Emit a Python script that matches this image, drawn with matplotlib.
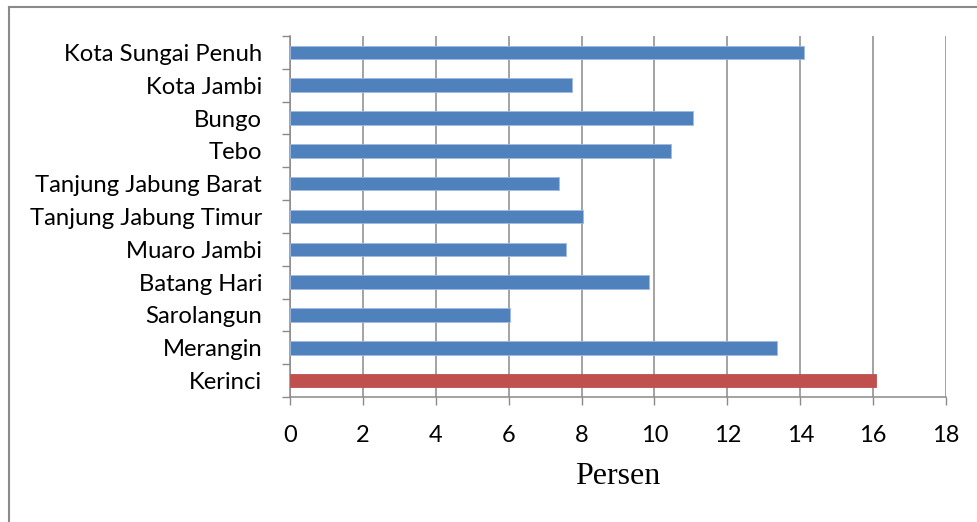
import matplotlib
matplotlib.use("Agg")
import matplotlib.pyplot as plt
from matplotlib.lines import Line2D
import numpy as np

categories = ["Kerinci", "Merangin", "Sarolangun", "Batang Hari", "Muaro Jambi",
              "Tanjung Jabung Timur", "Tanjung Jabung Barat", "Tebo", "Bungo",
              "Kota Jambi", "Kota Sungai Penuh"]
values = [16.07, 13.36, 6.04, 9.86, 7.57, 8.03, 7.38, 10.45, 11.07, 7.74, 14.10]
highlight = "Kerinci"
xticks = [0, 2, 4, 6, 8, 10, 12, 14, 16, 18]
xlabel = "Persen"

BLUE = "#4F81BD"
RED = "#C0504D"
GRID = "#8A8A8A"

fig = plt.figure(figsize=(9.77, 5.22), dpi=100)
W, H = 977, 522
ax = fig.add_axes([290 / W, 1 - 397 / H, (946 - 290) / W, (397 - 36) / H])

y = np.arange(len(categories))
colors = [RED if c == highlight else BLUE for c in categories]
edges = ["#C0504D" if c == highlight else "#9FBBE0" for c in categories]
ax.barh(y, values, height=0.41, color=colors, edgecolor=edges, linewidth=0.6, zorder=3)

ax.set_xlim(0, 18)
ax.set_ylim(-0.5, len(categories) - 0.5)
ax.set_xticks(xticks)
ax.set_xticklabels([str(t) for t in xticks], fontsize=17, fontfamily="Lato")
ax.set_yticks(y)
ax.set_yticklabels(categories, fontsize=17.2, fontfamily="Lato")
ax.set_yticks(np.arange(-0.5, len(categories), 1.0), minor=True)

ax.tick_params(axis="y", which="major", length=0, pad=20)
ax.tick_params(axis="y", which="minor", length=6, width=1.0, color=GRID, direction="out")
ax.tick_params(axis="x", which="major", length=6, width=1.0, color=GRID, direction="out", pad=14)

ax.grid(axis="x", color=GRID, linewidth=1.1, zorder=0)
ax.set_axisbelow(True)
for s in ["top", "right"]:
    ax.spines[s].set_visible(False)
for s in ["left", "bottom"]:
    ax.spines[s].set_color(GRID)
    ax.spines[s].set_linewidth(1.1)

ax.set_xlabel(xlabel, fontsize=23, fontfamily="Liberation Serif", labelpad=12)

# outer frame (left and top edges visible)
fig.add_artist(Line2D([9 / W, 9 / W], [0, 1 - 7 / H], transform=fig.transFigure, color="#8A8A8A", linewidth=1.5))
fig.add_artist(Line2D([9 / W, 1], [1 - 7 / H, 1 - 7 / H], transform=fig.transFigure, color="#8A8A8A", linewidth=1.5))

fig.savefig("out.png", dpi=100)
